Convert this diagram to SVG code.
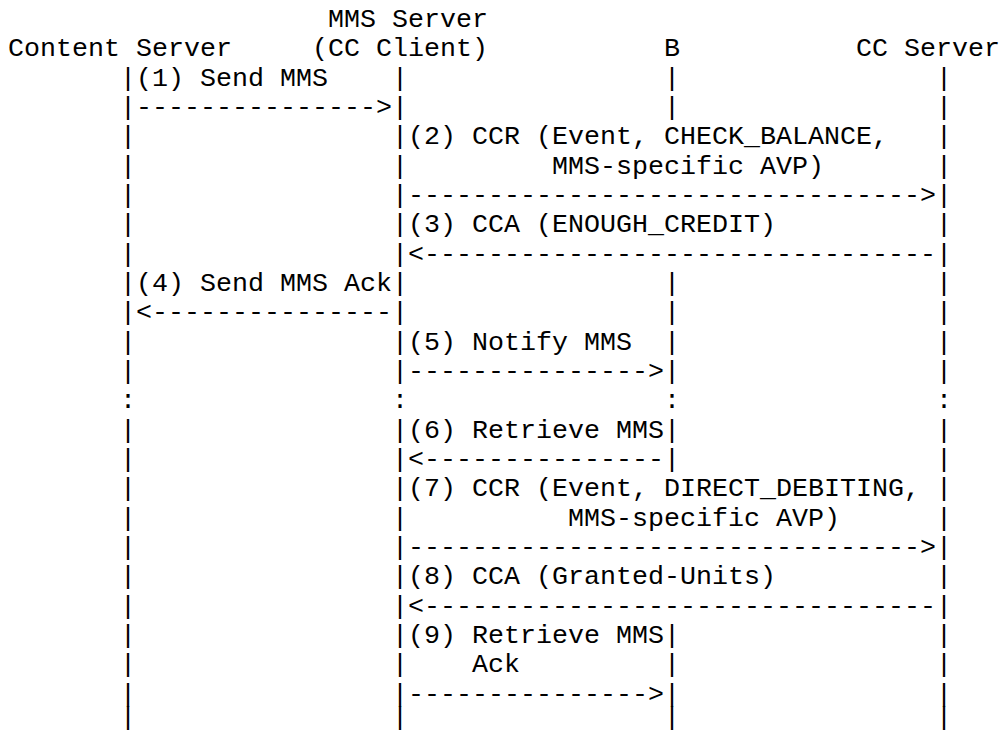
<svg xmlns="http://www.w3.org/2000/svg" width="1005" height="733" viewBox="0 0 1005 733">
<style>
text{font-family:"Liberation Mono","Courier New",monospace;font-size:26.667px;fill:#000;white-space:pre}
</style>
<rect width="1005" height="733" fill="#fff"/>
<g id="content-server"><text x="8" y="56.33">Content Server</text></g>
<g id="mms-server"><text x="328" y="27">MMS Server</text><text x="312" y="56.33">(CC Client)</text></g>
<g id="b"><text x="664" y="56.33">B</text></g>
<g id="cc-server"><text x="856" y="56.33">CC Server</text></g>
<g id="connectors">
<g id="lifelines">
<text x="120"><tspan x="120" y="85.67">|</tspan><tspan x="120" y="115">|</tspan><tspan x="120" y="144.33">|</tspan><tspan x="120" y="173.67">|</tspan><tspan x="120" y="203">|</tspan><tspan x="120" y="232.33">|</tspan><tspan x="120" y="261.67">|</tspan><tspan x="120" y="291">|</tspan><tspan x="120" y="320.33">|</tspan><tspan x="120" y="349.67">|</tspan><tspan x="120" y="379">|</tspan><tspan x="120" y="408.33">:</tspan><tspan x="120" y="437.67">|</tspan><tspan x="120" y="467">|</tspan><tspan x="120" y="496.33">|</tspan><tspan x="120" y="525.67">|</tspan><tspan x="120" y="555">|</tspan><tspan x="120" y="584.33">|</tspan><tspan x="120" y="613.67">|</tspan><tspan x="120" y="643">|</tspan><tspan x="120" y="672.33">|</tspan><tspan x="120" y="701.67">|</tspan><tspan x="120" y="725">|</tspan></text>
<text x="392"><tspan x="392" y="85.67">|</tspan><tspan x="392" y="115">|</tspan><tspan x="392" y="144.33">|</tspan><tspan x="392" y="173.67">|</tspan><tspan x="392" y="203">|</tspan><tspan x="392" y="232.33">|</tspan><tspan x="392" y="261.67">|</tspan><tspan x="392" y="291">|</tspan><tspan x="392" y="320.33">|</tspan><tspan x="392" y="349.67">|</tspan><tspan x="392" y="379">|</tspan><tspan x="392" y="408.33">:</tspan><tspan x="392" y="437.67">|</tspan><tspan x="392" y="467">|</tspan><tspan x="392" y="496.33">|</tspan><tspan x="392" y="525.67">|</tspan><tspan x="392" y="555">|</tspan><tspan x="392" y="584.33">|</tspan><tspan x="392" y="613.67">|</tspan><tspan x="392" y="643">|</tspan><tspan x="392" y="672.33">|</tspan><tspan x="392" y="701.67">|</tspan><tspan x="392" y="725">|</tspan></text>
<text x="664"><tspan x="664" y="85.67">|</tspan><tspan x="664" y="115">|</tspan><tspan x="664" y="291">|</tspan><tspan x="664" y="320.33">|</tspan><tspan x="664" y="349.67">|</tspan><tspan x="664" y="379">|</tspan><tspan x="664" y="408.33">:</tspan><tspan x="664" y="437.67">|</tspan><tspan x="664" y="467">|</tspan><tspan x="664" y="643">|</tspan><tspan x="664" y="672.33">|</tspan><tspan x="664" y="701.67">|</tspan><tspan x="664" y="725">|</tspan></text>
<text x="936"><tspan x="936" y="85.67">|</tspan><tspan x="936" y="115">|</tspan><tspan x="936" y="144.33">|</tspan><tspan x="936" y="173.67">|</tspan><tspan x="936" y="203">|</tspan><tspan x="936" y="232.33">|</tspan><tspan x="936" y="261.67">|</tspan><tspan x="936" y="291">|</tspan><tspan x="936" y="320.33">|</tspan><tspan x="936" y="349.67">|</tspan><tspan x="936" y="379">|</tspan><tspan x="936" y="408.33">:</tspan><tspan x="936" y="437.67">|</tspan><tspan x="936" y="467">|</tspan><tspan x="936" y="496.33">|</tspan><tspan x="936" y="525.67">|</tspan><tspan x="936" y="555">|</tspan><tspan x="936" y="584.33">|</tspan><tspan x="936" y="613.67">|</tspan><tspan x="936" y="643">|</tspan><tspan x="936" y="672.33">|</tspan><tspan x="936" y="701.67">|</tspan><tspan x="936" y="725">|</tspan></text>
</g>
<g id="messages">
<text x="136" y="85.67">(1) Send MMS</text>
<text x="136" y="115">---------------&gt;</text>
<text x="408" y="144.33">(2) CCR (Event, CHECK_BALANCE,</text>
<text x="552" y="173.67">MMS-specific AVP)</text>
<text x="408" y="203">--------------------------------&gt;</text>
<text x="408" y="232.33">(3) CCA (ENOUGH_CREDIT)</text>
<text x="408" y="261.67">&lt;--------------------------------</text>
<text x="136" y="291">(4) Send MMS Ack</text>
<text x="136" y="320.33">&lt;---------------</text>
<text x="408" y="349.67">(5) Notify MMS</text>
<text x="408" y="379">---------------&gt;</text>
<text x="408" y="437.67">(6) Retrieve MMS</text>
<text x="408" y="467">&lt;---------------</text>
<text x="408" y="496.33">(7) CCR (Event, DIRECT_DEBITING,</text>
<text x="568" y="525.67">MMS-specific AVP)</text>
<text x="408" y="555">--------------------------------&gt;</text>
<text x="408" y="584.33">(8) CCA (Granted-Units)</text>
<text x="408" y="613.67">&lt;--------------------------------</text>
<text x="408" y="643">(9) Retrieve MMS</text>
<text x="472" y="672.33">Ack</text>
<text x="408" y="701.67">---------------&gt;</text>
</g>
</g>
</svg>
